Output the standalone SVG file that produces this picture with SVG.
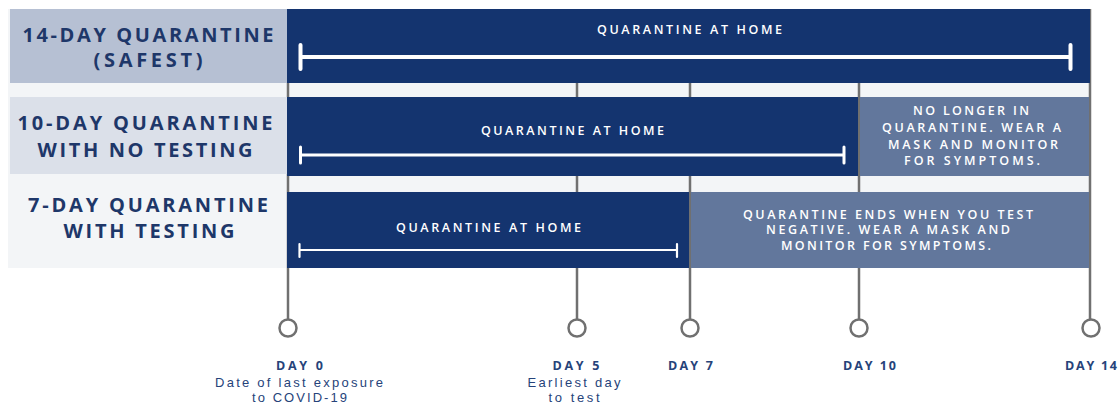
<svg xmlns="http://www.w3.org/2000/svg" width="1120" height="405" viewBox="0 0 1120 405">
<style>
.lbl{font-family:"Open Sans","Liberation Sans",Arial,sans-serif;font-weight:bold;font-size:20px;fill:#1e3769;text-anchor:middle}
.band{font-family:"Open Sans","Liberation Sans",Arial,sans-serif;font-weight:600;font-size:12.5px;fill:#ffffff;text-anchor:middle}
.day{font-family:"Open Sans","Liberation Sans",Arial,sans-serif;font-weight:bold;font-size:12.5px;fill:#26437a;text-anchor:middle}
.sub{font-family:"Liberation Sans",Arial,sans-serif;font-size:13px;fill:#26437a;text-anchor:middle}
.tl{stroke:#707070;stroke-width:2.5;fill:none}
.dot{fill:#ffffff;stroke:#707070;stroke-width:2.5}
.br{stroke:#ffffff;fill:none;stroke-linecap:round}
.dark{fill:#14346f}
.mid{fill:#62779c}
</style>
<rect x="8" y="9" width="1081" height="259" fill="#f3f5f7"/>
<g id="connectors">
<line class="tl" x1="288" y1="83" x2="288" y2="320"/>
<line class="tl" x1="577" y1="9" x2="577" y2="320"/>
<line class="tl" x1="690" y1="9" x2="690" y2="320"/>
<line class="tl" x1="859" y1="9" x2="859" y2="320"/>
<line class="tl" x1="1090" y1="9" x2="1090" y2="320"/>
</g>
<g id="row-14day">
<rect x="10" y="9" width="277" height="74" fill="#b6c0d3"/>
<text class="lbl" x="148" y="42" textLength="251" lengthAdjust="spacing">14-DAY QUARANTINE</text>
<text class="lbl" x="148" y="67" textLength="109" lengthAdjust="spacing">(SAFEST)</text>
<rect class="dark" x="287" y="9" width="803" height="74"/>
<text class="band" x="689.5" y="34" textLength="185" lengthAdjust="spacing">QUARANTINE AT HOME</text>
<path class="br" d="M300.5 57 H1070.5 M300.5 45 V69 M1070.5 45 V69" stroke-width="4"/>
</g>
<g id="row-10day">
<rect x="10" y="97" width="277" height="77" fill="#dbe0e9"/>
<text class="lbl" x="145" y="130" textLength="255" lengthAdjust="spacing">10-DAY QUARANTINE</text>
<text class="lbl" x="145" y="157" textLength="215" lengthAdjust="spacing">WITH NO TESTING</text>
<rect class="dark" x="287" y="97" width="571" height="79"/>
<rect class="mid" x="860" y="97" width="229" height="79"/>
<text class="band" x="572.5" y="135" textLength="183" lengthAdjust="spacing">QUARANTINE AT HOME</text>
<path class="br" d="M300.5 155 H844 M300.5 147 V163 M844 147 V163" stroke-width="3"/>
<text class="band" x="971" y="115" textLength="116" lengthAdjust="spacing">NO LONGER IN</text>
<text class="band" x="971.5" y="132" textLength="179" lengthAdjust="spacing">QUARANTINE. WEAR A</text>
<text class="band" x="973" y="149" textLength="170" lengthAdjust="spacing">MASK AND MONITOR</text>
<text class="band" x="972" y="165" textLength="136" lengthAdjust="spacing">FOR SYMPTOMS.</text>
</g>
<g id="row-7day">
<text class="lbl" x="148" y="212" textLength="240" lengthAdjust="spacing">7-DAY QUARANTINE</text>
<text class="lbl" x="149" y="238" textLength="171" lengthAdjust="spacing">WITH TESTING</text>
<rect class="dark" x="287" y="192" width="402" height="76"/>
<rect class="mid" x="691" y="192" width="398" height="76"/>
<text class="band" x="488.5" y="232" textLength="185" lengthAdjust="spacing">QUARANTINE AT HOME</text>
<path class="br" d="M299.5 250 H677 M299.5 244 V257 M677 244 V257" stroke-width="2.2"/>
<text class="band" x="888" y="219" textLength="290" lengthAdjust="spacing">QUARANTINE ENDS WHEN YOU TEST</text>
<text class="band" x="888" y="234" textLength="244" lengthAdjust="spacing">NEGATIVE. WEAR A MASK AND</text>
<text class="band" x="886" y="250" textLength="210" lengthAdjust="spacing">MONITOR FOR SYMPTOMS.</text>
</g>
<g id="day0">
<circle class="dot" cx="288" cy="328" r="8.5"/>
<text class="day" x="299.5" y="370" textLength="47" lengthAdjust="spacing">DAY 0</text>
<text class="sub" x="299" y="387" textLength="168" lengthAdjust="spacing">Date of last exposure</text>
<text class="sub" x="299.5" y="402" textLength="95" lengthAdjust="spacing">to COVID-19</text>
</g>
<g id="day5">
<circle class="dot" cx="577" cy="328" r="8.5"/>
<text class="day" x="576" y="370" textLength="47" lengthAdjust="spacing">DAY 5</text>
<text class="sub" x="574" y="387" textLength="93" lengthAdjust="spacing">Earliest day</text>
<text class="sub" x="574" y="402" textLength="51" lengthAdjust="spacing">to test</text>
</g>
<g id="day7">
<circle class="dot" cx="690" cy="328" r="8.5"/>
<text class="day" x="690.5" y="370" textLength="45" lengthAdjust="spacing">DAY 7</text>
</g>
<g id="day10">
<circle class="dot" cx="859" cy="328" r="8.5"/>
<text class="day" x="869.5" y="370" textLength="53" lengthAdjust="spacing">DAY 10</text>
</g>
<g id="day14">
<circle class="dot" cx="1091" cy="328" r="8.5"/>
<text class="day" x="1091" y="370" textLength="52" lengthAdjust="spacing">DAY 14</text>
</g>
</svg>
